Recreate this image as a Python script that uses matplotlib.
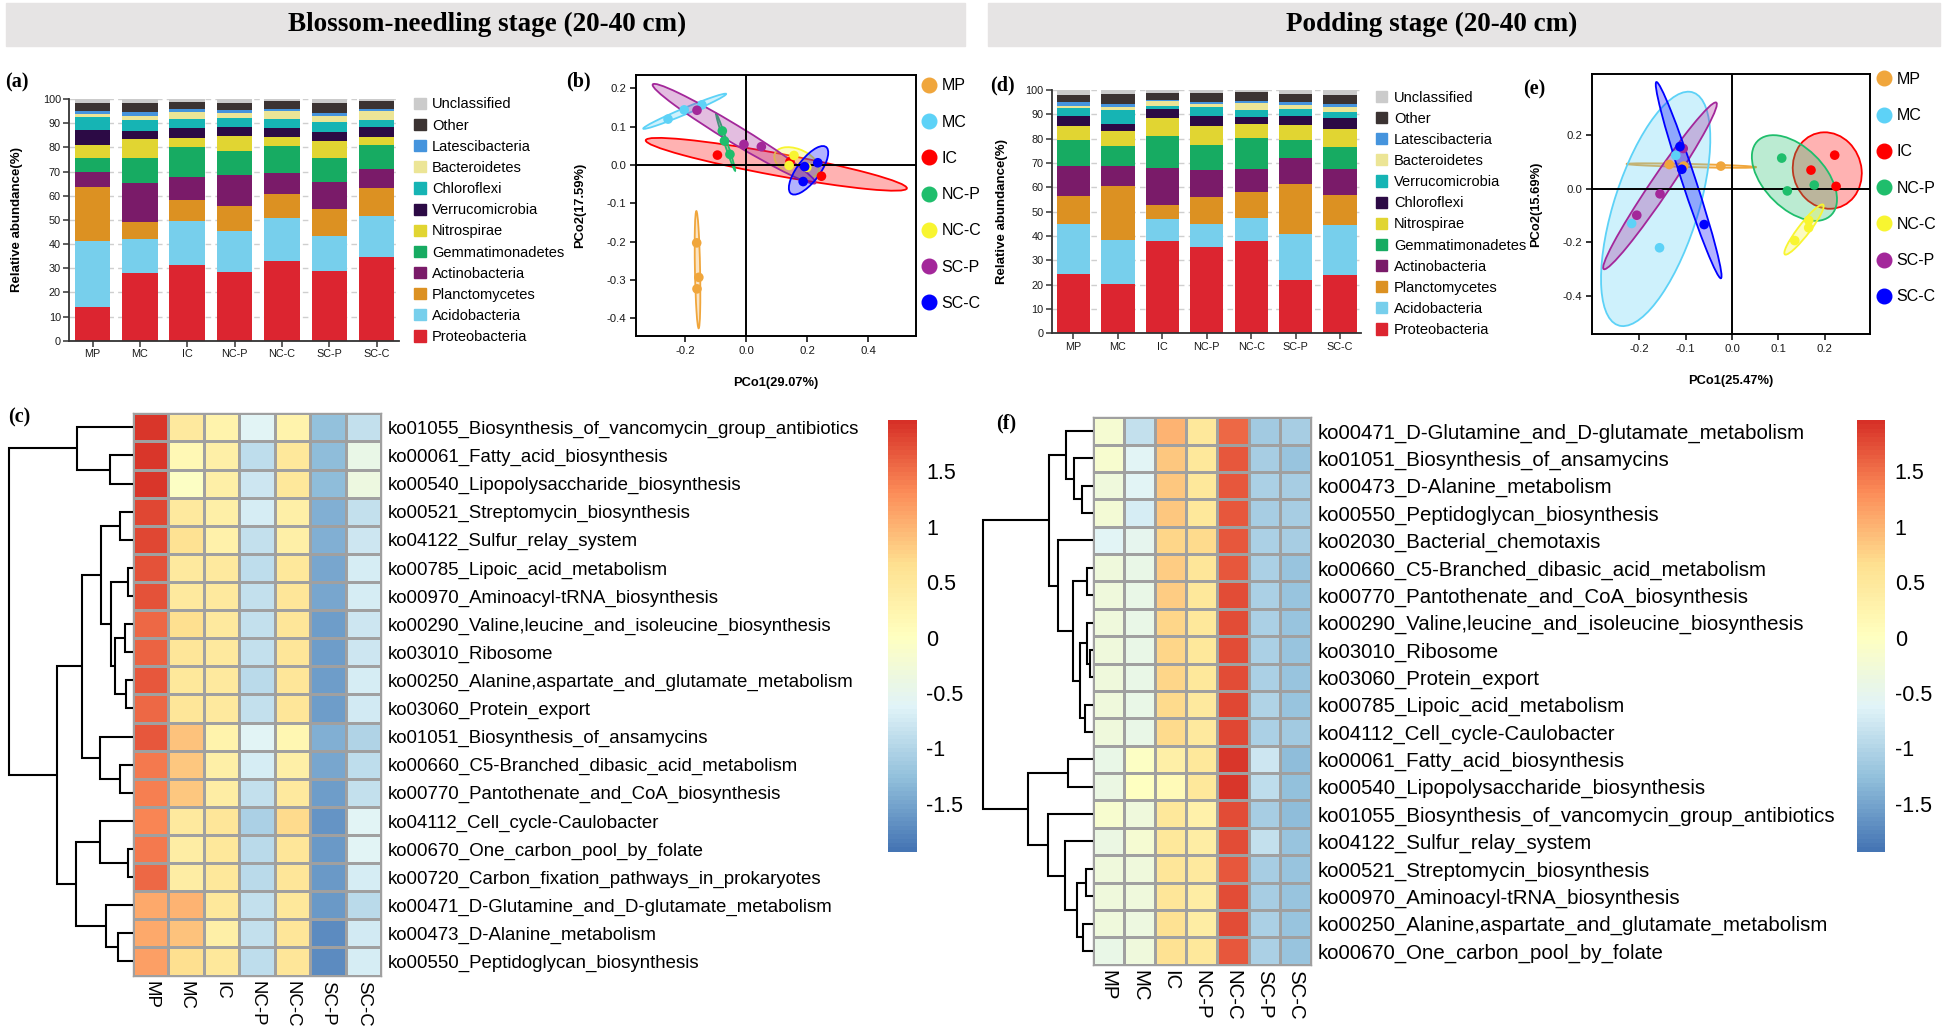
import numpy as np
import matplotlib
matplotlib.use('Agg')
import matplotlib.pyplot as plt
from matplotlib.patches import Rectangle, Ellipse, Patch
from matplotlib.lines import Line2D
from matplotlib.colors import LinearSegmentedColormap, to_rgba
from matplotlib.ticker import FormatStrFormatter

plt.rcParams['font.family'] = 'Liberation Sans'

# ============================================================
# DATA
# ============================================================
groups = ['MP', 'MC', 'IC', 'NC-P', 'NC-C', 'SC-P', 'SC-C']

# --- (a) blossom-needling stage, relative abundance (%) per phylum
a_proteobacteria = [14.1, 27.9, 31.3, 28.6, 33.0, 28.8, 34.8]
a_acidobacteria = [27.1, 14.0, 18.2, 16.8, 17.9, 14.5, 16.9]
a_planctomycetes = [22.2, 7.1, 8.7, 10.5, 9.7, 11.0, 11.3]
a_actinobacteria = [6.5, 16.2, 9.5, 12.5, 8.6, 11.2, 7.9]
a_gemmatimonadetes = [5.5, 10.2, 12.3, 10.1, 11.5, 10.2, 10.2]
a_nitrospirae = [5.7, 8.0, 4.0, 6.3, 3.6, 6.9, 3.3]
a_verrucomicrobia = [6.2, 3.5, 3.9, 3.5, 3.8, 3.6, 4.2]
a_chloroflexi = [5.4, 4.4, 3.7, 3.8, 3.5, 4.1, 2.7]
a_bacteroidetes = [1.0, 1.7, 3.0, 2.2, 3.4, 2.8, 3.9]
a_latescibacteria = [1.5, 1.5, 1.1, 1.1, 0.7, 1.2, 0.8]
a_other = [3.3, 4.0, 3.1, 3.1, 3.3, 4.2, 3.0]
a_unclassified = [1.5, 1.5, 1.2, 1.5, 1.0, 1.5, 1.0]
a_labels = ['Proteobacteria', 'Acidobacteria', 'Planctomycetes', 'Actinobacteria',
            'Gemmatimonadetes', 'Nitrospirae', 'Verrucomicrobia', 'Chloroflexi',
            'Bacteroidetes', 'Latescibacteria', 'Other', 'Unclassified']

# --- (d) podding stage
d_proteobacteria = [24.2, 20.3, 37.9, 35.3, 37.9, 21.8, 24.0]
d_acidobacteria = [20.6, 18.2, 9.2, 9.8, 9.5, 18.9, 20.5]
d_planctomycetes = [11.8, 22.0, 5.8, 10.8, 10.7, 20.5, 12.3]
d_actinobacteria = [12.2, 8.4, 15.2, 11.1, 9.4, 11.0, 10.6]
d_gemmatimonadetes = [10.5, 8.2, 12.9, 10.4, 12.6, 7.1, 9.2]
d_nitrospirae = [5.9, 5.9, 7.6, 7.9, 5.9, 6.3, 7.2]
d_chloroflexi = [4.3, 3.2, 3.6, 4.0, 2.9, 3.6, 4.6]
d_verrucomicrobia = [3.0, 5.7, 1.2, 3.7, 3.0, 3.1, 2.4]
d_bacteroidetes = [1.1, 1.3, 1.9, 1.4, 2.9, 1.4, 2.2]
d_latescibacteria = [1.5, 1.0, 0.6, 0.5, 0.7, 1.4, 1.2]
d_other = [2.8, 4.3, 2.9, 3.9, 3.7, 3.1, 3.9]
d_unclassified = [2.1, 1.5, 1.2, 1.2, 0.8, 1.8, 1.9]
d_labels = ['Proteobacteria', 'Acidobacteria', 'Planctomycetes', 'Actinobacteria',
            'Gemmatimonadetes', 'Nitrospirae', 'Chloroflexi', 'Verrucomicrobia',
            'Bacteroidetes', 'Latescibacteria', 'Other', 'Unclassified']

# --- (b) PCoA blossom-needling, 3 replicates per group
b_pco1 = [[-0.163, -0.156, -0.162], [-0.257, -0.204, -0.146], [-0.095, 0.143, 0.246],
          [-0.079, -0.072, -0.054], [0.156, 0.140, 0.198], [-0.162, -0.008, 0.049],
          [0.191, 0.234, 0.186]]
b_pco2 = [[-0.203, -0.293, -0.323], [0.120, 0.144, 0.157], [0.026, 0.009, -0.029],
          [0.089, 0.063, 0.028], [0.025, -0.001, -0.006], [0.143, 0.054, 0.048],
          [-0.004, 0.006, -0.043]]

# --- (e) PCoA podding
e_pco1 = [[-0.135, -0.104, -0.024], [-0.121, -0.216, -0.156], [0.170, 0.221, 0.224],
          [0.107, 0.119, 0.177], [0.165, 0.165, 0.135], [-0.105, -0.155, -0.205],
          [-0.112, -0.108, -0.060]]
e_pco2 = [[0.091, 0.085, 0.085], [0.125, -0.130, -0.221], [0.070, 0.126, 0.009],
          [0.115, -0.008, 0.014], [-0.118, -0.146, -0.194], [0.151, -0.019, -0.099],
          [0.158, 0.073, -0.134]]

# --- (c) KEGG pathways, row z-scores, blossom-needling
c_rows = ['ko01055_Biosynthesis_of_vancomycin_group_antibiotics',
          'ko00061_Fatty_acid_biosynthesis',
          'ko00540_Lipopolysaccharide_biosynthesis',
          'ko00521_Streptomycin_biosynthesis',
          'ko04122_Sulfur_relay_system',
          'ko00785_Lipoic_acid_metabolism',
          'ko00970_Aminoacyl-tRNA_biosynthesis',
          'ko00290_Valine,leucine_and_isoleucine_biosynthesis',
          'ko03010_Ribosome',
          'ko00250_Alanine,aspartate_and_glutamate_metabolism',
          'ko03060_Protein_export',
          'ko01051_Biosynthesis_of_ansamycins',
          'ko00660_C5-Branched_dibasic_acid_metabolism',
          'ko00770_Pantothenate_and_CoA_biosynthesis',
          'ko04112_Cell_cycle-Caulobacter',
          'ko00670_One_carbon_pool_by_folate',
          'ko00720_Carbon_fixation_pathways_in_prokaryotes',
          'ko00471_D-Glutamine_and_D-glutamate_metabolism',
          'ko00473_D-Alanine_metabolism',
          'ko00550_Peptidoglycan_biosynthesis']
c_z = [[1.90, 0.45, 0.25, -0.60, 0.25, -1.25, -0.85],
       [1.90, 0.15, 0.35, -0.90, 0.50, -1.30, -0.45],
       [1.90, -0.05, 0.35, -0.80, 0.50, -1.30, -0.35],
       [1.80, 0.45, 0.35, -0.70, 0.35, -1.40, -0.85],
       [1.80, 0.60, 0.30, -0.85, 0.35, -1.40, -0.80],
       [1.70, 0.45, 0.45, -0.90, 0.50, -1.50, -0.70],
       [1.70, 0.45, 0.45, -0.85, 0.55, -1.50, -0.70],
       [1.55, 0.65, 0.45, -0.85, 0.55, -1.55, -0.80],
       [1.60, 0.55, 0.45, -0.85, 0.55, -1.55, -0.80],
       [1.65, 0.50, 0.45, -0.95, 0.55, -1.55, -0.70],
       [1.55, 0.55, 0.45, -0.85, 0.55, -1.55, -0.75],
       [1.65, 0.90, 0.25, -0.60, 0.20, -1.40, -1.00],
       [1.45, 0.85, 0.35, -0.70, 0.35, -1.50, -0.90],
       [1.40, 0.85, 0.40, -0.85, 0.45, -1.55, -0.85],
       [1.35, 0.45, 0.55, -1.05, 0.70, -1.65, -0.60],
       [1.45, 0.40, 0.50, -0.95, 0.55, -1.60, -0.60],
       [1.55, 0.40, 0.50, -0.95, 0.55, -1.60, -0.70],
       [1.10, 1.00, 0.50, -0.85, 0.50, -1.60, -0.95],
       [1.10, 0.90, 0.35, -0.85, 0.55, -1.70, -0.75],
       [1.15, 0.65, 0.50, -0.90, 0.55, -1.70, -0.70]]
# row tree: (left, right, merge height), leaves are row indices
c_tree = ((0, (1, 2, 70), 168),
          ((((3, 4, 40), ((5, 6, 15), ((7, 8, 25), (9, 10, 22), 55), 67), 97),
            (11, (12, 13, 38), 100), 152),
           ((14, (15, 16, 15), 100), (17, (18, 19, 45), 82), 172), 228),
          372)

# --- (f) KEGG pathways, podding
f_rows = ['ko00471_D-Glutamine_and_D-glutamate_metabolism',
          'ko01051_Biosynthesis_of_ansamycins',
          'ko00473_D-Alanine_metabolism',
          'ko00550_Peptidoglycan_biosynthesis',
          'ko02030_Bacterial_chemotaxis',
          'ko00660_C5-Branched_dibasic_acid_metabolism',
          'ko00770_Pantothenate_and_CoA_biosynthesis',
          'ko00290_Valine,leucine_and_isoleucine_biosynthesis',
          'ko03010_Ribosome',
          'ko03060_Protein_export',
          'ko00785_Lipoic_acid_metabolism',
          'ko04112_Cell_cycle-Caulobacter',
          'ko00061_Fatty_acid_biosynthesis',
          'ko00540_Lipopolysaccharide_biosynthesis',
          'ko01055_Biosynthesis_of_vancomycin_group_antibiotics',
          'ko04122_Sulfur_relay_system',
          'ko00521_Streptomycin_biosynthesis',
          'ko00970_Aminoacyl-tRNA_biosynthesis',
          'ko00250_Alanine,aspartate_and_glutamate_metabolism',
          'ko00670_One_carbon_pool_by_folate']
f_z = [[-0.20, -0.85, 1.00, 0.50, 1.55, -1.15, -1.10],
       [-0.15, -0.60, 0.85, 0.50, 1.65, -1.10, -1.20],
       [-0.30, -0.60, 0.85, 0.50, 1.65, -1.05, -1.10],
       [-0.25, -0.70, 0.85, 0.50, 1.65, -1.10, -1.10],
       [-0.60, -0.50, 0.75, 0.70, 1.65, -1.05, -1.10],
       [-0.30, -0.45, 0.80, 0.55, 1.65, -1.05, -1.20],
       [-0.30, -0.45, 0.80, 0.50, 1.75, -1.05, -1.20],
       [-0.30, -0.45, 0.75, 0.50, 1.75, -1.05, -1.20],
       [-0.30, -0.45, 0.75, 0.50, 1.75, -1.05, -1.20],
       [-0.30, -0.45, 0.75, 0.50, 1.75, -1.05, -1.20],
       [-0.30, -0.45, 0.70, 0.45, 1.80, -1.00, -1.20],
       [-0.30, -0.45, 0.70, 0.45, 1.80, -1.05, -1.15],
       [-0.45, -0.05, 0.35, 0.50, 1.90, -0.80, -1.30],
       [-0.40, 0.00, 0.10, 0.50, 1.90, -0.90, -1.25],
       [-0.15, -0.30, 0.50, 0.30, 1.75, -1.10, -1.30],
       [-0.40, -0.20, 0.50, 0.40, 1.75, -0.85, -1.20],
       [-0.30, -0.30, 0.55, 0.45, 1.65, -1.10, -1.20],
       [-0.30, -0.30, 0.55, 0.40, 1.75, -1.10, -1.20],
       [-0.30, -0.35, 0.60, 0.40, 1.75, -1.05, -1.20],
       [-0.45, -0.30, 0.60, 0.50, 1.65, -1.05, -1.20]]
f_tree = (((0, (1, (2, 3, 33), 55), 81),
           (4, ((5, 6, 18), ((7, (8, 9, 8), 18), (10, 11, 23), 38), 58), 105), 131),
          ((12, 13, 73),
           (14, (15, ((16, 17, 20), (18, 19, 28), 48), 83), 133), 193),
          328)

# ============================================================
# STYLE
# ============================================================
taxa_colors = ['#dc2530', '#77cfec', '#dc9122', '#7a1b69', '#17ab62', '#e1d532',
               '#2c0a45', '#16b4b4', '#ece596', '#4594dd', '#3b3332', '#cbcbcb']
group_colors = ['#f0a63c', '#5dd2f7', '#ff0000', '#1fbe6c', '#f8f530', '#a3279a', '#0000ff']
heat_cmap = LinearSegmentedColormap.from_list(
    'pheat', ['#4575B4', '#91BFDB', '#E0F3F8', '#FFFFBF', '#FEE090', '#FC8D59', '#D73027'], N=100)
VMIN, VMAX = -1.93, 1.96

W, H = 1944, 1031
fig = plt.figure(figsize=(W / 100, H / 100), dpi=100)


def px_axes(x0, y0, x1, y1):
    return fig.add_axes([x0 / W, 1 - y1 / H, (x1 - x0) / W, (y1 - y0) / H])


def banner(x0, x1, tx, text):
    fig.patches.append(Rectangle((x0 / W, 1 - 46 / H), (x1 - x0) / W, 43.5 / H,
                                 transform=fig.transFigure, color='#e6e4e4', zorder=0))
    fig.text(tx / W, 1 - 24.5 / H, text, ha='center', va='center', fontsize=19.5,
             fontweight='bold', family='Liberation Serif')


def panel_letter(x, y, s):
    fig.text(x / W, 1 - y / H, s, ha='left', va='center', fontsize=14.5,
             fontweight='bold', family='Liberation Serif')


def stacked_panel(box, segs, labels, leg_xy):
    ax = px_axes(*box)
    x = np.arange(len(groups))
    bottom = np.zeros(len(groups))
    for vals, c in zip(segs, taxa_colors):
        ax.bar(x, vals, 0.75, bottom=bottom, color=c, linewidth=0, zorder=2)
        bottom += np.array(vals)
    ax.set_xlim(-0.49, 6.47)
    ax.set_ylim(0, 100)
    ax.set_yticks(range(0, 101, 10))
    ax.set_xticks(x)
    ax.set_xticklabels(groups)
    ax.yaxis.grid(True, linestyle=(0, (4, 3)), color='#cfcfcf', lw=1.0)
    ax.set_axisbelow(True)
    for s in ['top', 'right']:
        ax.spines[s].set_visible(False)
    for s in ['left', 'bottom']:
        ax.spines[s].set_color('#333333')
        ax.spines[s].set_linewidth(1.3)
    ax.tick_params(length=4, width=1.1, color='#333333', labelsize=7.8,
                   labelcolor='#1a1a1a', pad=2)
    ax.set_ylabel('Relative abundance(%)', fontsize=9.5, fontweight='bold')
    ax.yaxis.set_label_coords(-0.16, 0.5)
    ax.yaxis.label.set_va('center')
    handles = [Patch(color=c) for c in taxa_colors][::-1]
    ax.legend(handles, labels[::-1], loc='upper left',
              bbox_to_anchor=(leg_xy[0] / W, 1 - leg_xy[1] / H),
              bbox_transform=fig.transFigure, frameon=False, fontsize=10.5,
              handlelength=0.8, handleheight=0.8, handletextpad=0.45,
              labelspacing=0.49, borderpad=0, borderaxespad=0)
    return ax


def conf_ellipse(ax, xs, ys, color):
    cov = np.cov(xs, ys)
    vals, vecs = np.linalg.eigh(cov)
    order = vals.argsort()[::-1]
    vals, vecs = vals[order], vecs[:, order]
    angle = np.degrees(np.arctan2(vecs[1, 0], vecs[0, 0]))
    k = np.sqrt(5.991)  # 95% chi-square, 2 dof
    w, h = 2 * k * np.sqrt(np.maximum(vals, 0))
    ax.add_patch(Ellipse((np.mean(xs), np.mean(ys)), w, h, angle=angle,
                         facecolor=to_rgba(color, 0.3), edgecolor=color, lw=1.3, zorder=2))


def pcoa_panel(box, pc1, pc2, xlim, ylim, xticks, yticks, xlab, ylab, leg_xy):
    ax = px_axes(*box)
    for xs, ys, c in zip(pc1, pc2, group_colors):
        conf_ellipse(ax, xs, ys, c)
    for xs, ys, c in zip(pc1, pc2, group_colors):
        ax.scatter(xs, ys, s=48, color=c, edgecolors='none', zorder=4)
    ax.axhline(0, color='black', lw=1.4, zorder=3)
    ax.axvline(0, color='black', lw=1.4, zorder=3)
    ax.set_xlim(*xlim)
    ax.set_ylim(*ylim)
    ax.set_xticks(xticks)
    ax.set_yticks(yticks)
    ax.xaxis.set_major_formatter(FormatStrFormatter('%.1f'))
    ax.yaxis.set_major_formatter(FormatStrFormatter('%.1f'))
    for s in ax.spines.values():
        s.set_linewidth(1.4)
    ax.tick_params(length=4, width=1.1, labelsize=8.2, labelcolor='#1a1a1a', pad=3)
    ax.set_xlabel(xlab, fontsize=9.3, fontweight='bold')
    ax.set_ylabel(ylab, fontsize=9.3, fontweight='bold')
    ax.xaxis.set_label_coords(0.5, -0.18)
    ax.xaxis.label.set_va('center')
    ax.yaxis.set_label_coords(-0.2, 0.5)
    ax.yaxis.label.set_va('center')
    handles = [Line2D([], [], marker='o', ls='none', color=c, markersize=10.5)
               for c in group_colors]
    ax.legend(handles, groups, loc='upper left',
              bbox_to_anchor=(leg_xy[0] / W, 1 - leg_xy[1] / H),
              bbox_transform=fig.transFigure, frameon=False, fontsize=11.5,
              handlelength=1.0, handletextpad=0.3, labelspacing=1.33,
              borderpad=0, borderaxespad=0)
    return ax


def draw_tree(ax, node):
    if isinstance(node, int):
        return node + 0.5, 0.0
    left, right, h = node
    y1, h1 = draw_tree(ax, left)
    y2, h2 = draw_tree(ax, right)
    ax.plot([h1, h, h, h2], [y1, y1, y2, y2], color='black', lw=1.5,
            clip_on=False, solid_capstyle='butt', solid_joinstyle='miter')
    return (y1 + y2) / 2, h


def heat_panel(hbox, tbox, cbox, z, rows, tree, fs):
    ax = px_axes(*hbox)
    nr = len(rows)
    mesh = ax.pcolormesh(np.array(z), cmap=heat_cmap, vmin=VMIN, vmax=VMAX,
                         edgecolors='#a0a0a0', linewidth=1.0)
    ax.set_xlim(0, len(groups))
    ax.set_ylim(nr, 0)
    ax.set_xticks(np.arange(len(groups)) + 0.5)
    ax.set_xticklabels(groups, rotation=270, fontsize=fs)
    ax.yaxis.tick_right()
    ax.set_yticks(np.arange(nr) + 0.5)
    ax.set_yticklabels(rows, fontsize=fs)
    ax.tick_params(length=0)
    ax.tick_params(axis='y', pad=5)
    ax.tick_params(axis='x', pad=4)
    for s in ax.spines.values():
        s.set_color('#a0a0a0')
        s.set_linewidth(1.0)

    tax = px_axes(*tbox)
    tax.set_ylim(nr, 0)
    tax.set_xlim(tree[2], 0)
    tax.axis('off')
    draw_tree(tax, tree)

    cax = px_axes(*cbox)
    cb = fig.colorbar(mesh, cax=cax)
    cb.outline.set_visible(False)
    cb.set_ticks([-1.5, -1, -0.5, 0, 0.5, 1, 1.5])
    cb.set_ticklabels(['-1.5', '-1', '-0.5', '0', '0.5', '1', '1.5'])
    cax.tick_params(length=0, labelsize=15.5, pad=7)
    return ax


# ============================================================
# FIGURE
# ============================================================
banner(6, 965, 487, 'Blossom-needling stage (20-40 cm)')
banner(988, 1940, 1432, 'Podding stage (20-40 cm)')

stacked_panel((69.3, 99, 399, 340.7),
              [a_proteobacteria, a_acidobacteria, a_planctomycetes, a_actinobacteria,
               a_gemmatimonadetes, a_nitrospirae, a_verrucomicrobia, a_chloroflexi,
               a_bacteroidetes, a_latescibacteria, a_other, a_unclassified],
              a_labels, (414, 97.5))
stacked_panel((1051.7, 90, 1361, 333.3),
              [d_proteobacteria, d_acidobacteria, d_planctomycetes, d_actinobacteria,
               d_gemmatimonadetes, d_nitrospirae, d_chloroflexi, d_verrucomicrobia,
               d_bacteroidetes, d_latescibacteria, d_other, d_unclassified],
              d_labels, (1375.7, 90.5))

pcoa_panel((636, 75, 916, 336), b_pco1, b_pco2, (-0.362, 0.556), (-0.446, 0.235),
           [-0.2, 0.0, 0.2, 0.4], [-0.4, -0.3, -0.2, -0.1, 0.0, 0.1, 0.2],
           'PCo1(29.07%)', 'PCo2(17.59%)', (921, 78.5))
pcoa_panel((1591.7, 74, 1870, 334), e_pco1, e_pco2, (-0.302, 0.297), (-0.544, 0.430),
           [-0.2, -0.1, 0.0, 0.1, 0.2], [-0.4, -0.2, 0.0, 0.2],
           'PCo1(25.47%)', 'PCo2(15.69%)', (1876, 72))

heat_panel((133, 413.3, 381, 975.5), (9.3, 413.3, 133, 975.5), (887.7, 420, 916.7, 851.7),
           c_z, c_rows, c_tree, 13.4)
heat_panel((1092.7, 417.3, 1311, 964.6), (983.3, 417.3, 1092.7, 964.6),
           (1856.7, 420, 1885, 851.7), f_z, f_rows, f_tree, 14.7)

panel_letter(5, 82, '(a)')
panel_letter(566, 81, '(b)')
panel_letter(8, 417, '(c)')
panel_letter(990, 85, '(d)')
panel_letter(1523, 89, '(e)')
panel_letter(996, 423, '(f)')

fig.savefig('out.png', dpi=100)
